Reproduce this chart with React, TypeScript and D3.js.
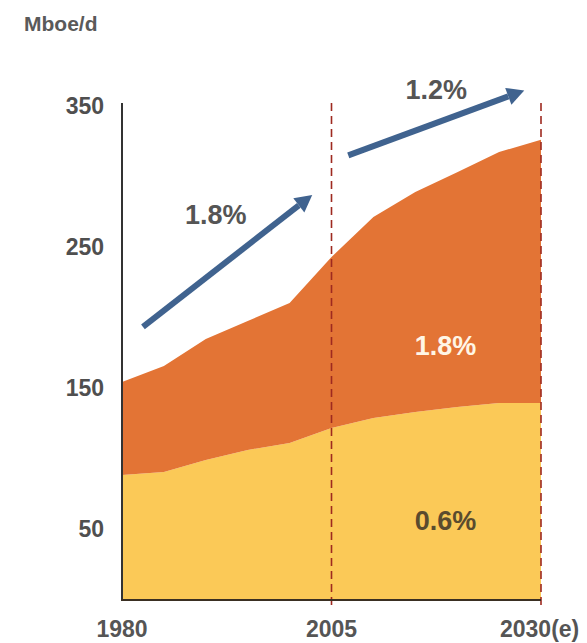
import React from "react";
import * as d3 from "d3";

// Energy demand, million barrels of oil equivalent per day
const years = [1980, 1985, 1990, 1995, 2000, 2005, 2010, 2015, 2020, 2025, 2030];
const lowerLayer = [88.6, 90.7, 99.2, 106.3, 111.2, 121.9, 128.9, 133.2, 136.8, 139.6, 139.6];
const upperLayer = [65.9, 75.1, 85.7, 91.4, 99.2, 121.1, 142.5, 155.8, 166.2, 177.8, 186.4];

const yTicks = [350, 250, 150, 50];
const xTicks = [1980, 2005, 2030];
const xTickLabels = ["1980", "2005", "2030(e)"];
const dividerYears = [2005, 2030];

// Growth-rate arrows: [year, value] from tail to tip, with label
const arrows = [
  { from: [1982.5, 193.5], to: [2002.7, 287], label: "1.8%", at: [1991.2, 273] },
  { from: [2007, 315], to: [2028, 361], label: "1.2%", at: [2017.5, 361] },
];
// Layer growth-rate labels: [year, value]
const layerLabels = [
  { text: "1.8%", at: [2018.6, 180], color: "#FFF6E6" },
  { text: "0.6%", at: [2018.6, 56], color: "#5A4B2E" },
];

const W = 587;
const H = 643;
const FONT = "'Liberation Sans', Arial, sans-serif";

export default function App() {
  const x = d3.scaleLinear().domain([1980, 2030]).range([122, 541]);
  const y = d3.scaleLinear().domain([0, 350]).range([600, 106]);

  const rows = years.map((yr, i) => ({ year: yr, lower: lowerLayer[i], upper: upperLayer[i] }));
  const stack = d3.stack<any>().keys(["lower", "upper"]);
  const series = stack(rows);

  const area = d3
    .area<any>()
    .x((d) => x(d.data.year))
    .y0((d) => y(d[0]))
    .y1((d) => y(d[1]))
    .curve(d3.curveLinear);

  const fills = ["#FBC957", "#E37435"];

  const arrowShape = (a: any) => {
    const x1 = x(a.from[0]);
    const y1 = y(a.from[1]);
    const x2 = x(a.to[0]);
    const y2 = y(a.to[1]);
    const ang = Math.atan2(y2 - y1, x2 - x1);
    const headLen = 17;
    const headHalf = 9;
    const bx = x2 - headLen * Math.cos(ang);
    const by = y2 - headLen * Math.sin(ang);
    const px = -Math.sin(ang);
    const py = Math.cos(ang);
    const head = [
      [x2, y2],
      [bx + px * headHalf, by + py * headHalf],
      [bx - px * headHalf, by - py * headHalf],
    ]
      .map((p) => p.join(","))
      .join(" ");
    return { x1, y1, bx, by, head };
  };

  return (
    <svg
      width={W}
      height={H}
      style={{ position: "absolute", left: 0, top: 0, background: "#fff" }}
    >
      <rect width={W} height={H} fill="#fff" />

      {series.map((s, i) => (
        <path key={i} d={area(s) || ""} fill={fills[i]} />
      ))}

      {/* dashed period dividers */}
      {dividerYears.map((yr) => (
        <line
          key={yr}
          x1={x(yr)}
          x2={x(yr)}
          y1={y(350) - 3}
          y2={609}
          stroke="#9E2A20"
          strokeWidth={1.6}
          strokeDasharray="8,5"
        />
      ))}

      {/* axes */}
      <line x1={x(1980)} x2={x(1980)} y1={y(350) - 3} y2={y(0)} stroke="#333" strokeWidth={2} />
      <line x1={x(1980) - 1} x2={x(2030)} y1={y(0)} y2={y(0)} stroke="#3a2f22" strokeWidth={2} />

      {yTicks.map((t) => (
        <text
          key={t}
          x={104}
          y={y(t)}
          textAnchor="end"
          dominantBaseline="central"
          fontFamily={FONT}
          fontWeight="bold"
          fontSize={23}
          fill="#4f4f4f"
        >
          {t}
        </text>
      ))}

      {xTicks.map((t, i) => (
        <text
          key={t}
          x={i === 2 ? x(t) - 41 : x(t)}
          y={637}
          textAnchor={i === 2 ? "start" : "middle"}
          fontFamily={FONT}
          fontWeight="bold"
          fontSize={23}
          fill="#555"
        >
          {xTickLabels[i]}
        </text>
      ))}

      <text x={24} y={31} fontFamily={FONT} fontWeight="bold" fontSize={21} fill="#5a5a5a">
        Mboe/d
      </text>

      {arrows.map((a, i) => {
        const s = arrowShape(a);
        return (
          <g key={i}>
            <line x1={s.x1} y1={s.y1} x2={s.bx} y2={s.by} stroke="#40638F" strokeWidth={6} />
            <polygon points={s.head} fill="#40638F" />
            <text
              x={x(a.at[0])}
              y={y(a.at[1])}
              textAnchor="middle"
              dominantBaseline="central"
              fontFamily={FONT}
              fontWeight="bold"
              fontSize={27}
              fill="#555"
            >
              {a.label}
            </text>
          </g>
        );
      })}

      {layerLabels.map((l, i) => (
        <text
          key={i}
          x={x(l.at[0])}
          y={y(l.at[1])}
          textAnchor="middle"
          dominantBaseline="central"
          fontFamily={FONT}
          fontWeight="bold"
          fontSize={27}
          fill={l.color}
        >
          {l.text}
        </text>
      ))}
    </svg>
  );
}
